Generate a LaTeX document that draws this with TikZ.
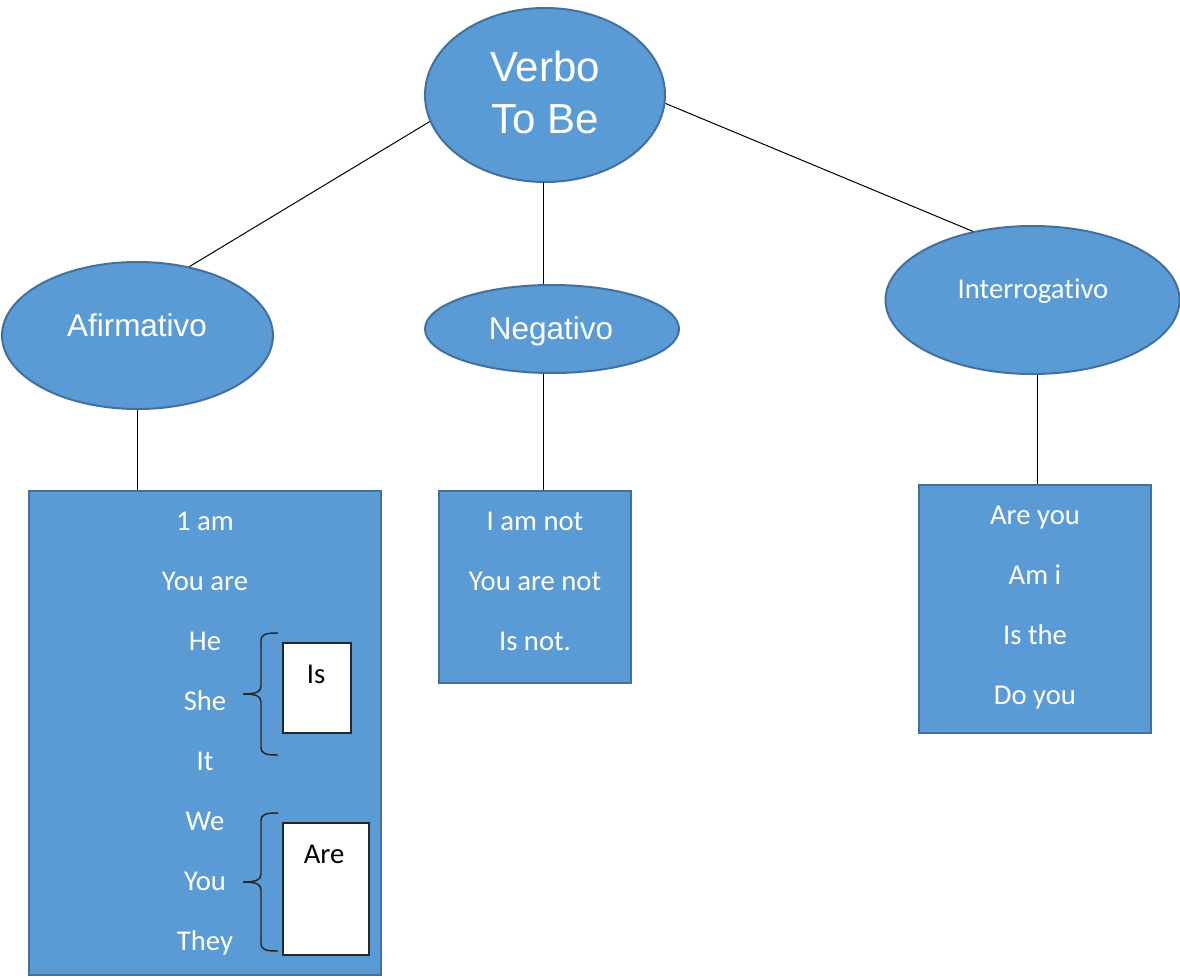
\documentclass[tikz,border=0pt]{standalone}
\usepackage{fontspec}
\setmainfont{Carlito}[RawFeature=-liga]
\newfontfamily\arialf{Liberation Sans}[RawFeature=-liga]
\usetikzlibrary{shapes.geometric}
\definecolor{ofblue}{HTML}{5B9BD5}
\definecolor{ofedge}{HTML}{41719C}
\tikzset{
  oval/.style={ellipse, draw=ofedge, fill=ofblue, line width=1.5pt, inner sep=0pt},
  bluebox/.style={rectangle, draw=ofedge, fill=ofblue, line width=1.5pt, inner sep=0pt},
  whitebox/.style={rectangle, draw=black!85, fill=white, line width=1.1pt, inner sep=0pt},
  link/.style={draw=black, line width=0.75pt},
  lbl/.style={text=white, font=\fontsize{21.5}{26}\selectfont, inner sep=0pt, anchor=base},
  blbl/.style={text=black, font=\fontsize{21.5}{26}\selectfont, inner sep=0pt, anchor=base},
  alb/.style={text=white, font=\arialf\fontsize{23.6}{28}\selectfont, inner sep=0pt, anchor=base},
  bracepath/.style={draw=black!85, line width=1.1pt}
}
\begin{document}
\begin{tikzpicture}[x=0.75pt,y=-0.75pt]
\useasboundingbox (0,0) rectangle (1180,977);
% ellipses
\node[oval, minimum width=180pt, minimum height=130.5pt] (verbo) at (545,95) {};
\node[oval, minimum width=203.25pt, minimum height=110.25pt] (afirm) at (137.5,335.5) {};
\node[oval, minimum width=190.5pt, minimum height=66pt] (neg) at (552,329) {};
\node[oval, minimum width=220.5pt, minimum height=111pt] (inter) at (1032.5,300) {};
% ellipse texts
\node[alb, font=\arialf\fontsize{31.5}{39}\selectfont] (verbot1) at (545,82) {Verbo};
\node[alb, font=\arialf\fontsize{31.5}{39}\selectfont] (verbot2) at (545,134) {To Be};
\node[alb] (afirmt) at (137,336) {Afirmativo};
\node[alb] (negt) at (551,339) {Negativo};
\node[lbl] (intert) at (1033,298) {Interrogativo};
% boxes
\node[bluebox, minimum width=264pt, minimum height=363pt] (abox) at (205,733) {};
\node[bluebox, minimum width=144pt, minimum height=144pt] (nbox) at (535,587) {};
\node[bluebox, minimum width=174pt, minimum height=186pt] (ibox) at (1035,609) {};
% connectors
\coordinate (vneg) at (543,182);
\draw[link] (verbo.193) -- (afirm.53);
\draw[link] (verbo.-4.8) -- (inter.131);
\draw[link] (vneg) -- (vneg |- neg.north);
\draw[link] (afirm.south) -- (afirm.south |- abox.north);
\draw[link] (vneg |- neg.south) -- (vneg |- nbox.north);
\draw[link] (inter.south -| 1037,0) -- (1037,0 |- ibox.north);
% afirmativo texts
\node[lbl] (a1) at (205,530) {1 am};
\node[lbl] (a2) at (205,590) {You are};
\node[lbl] (a3) at (205,650) {He};
\node[lbl] (a4) at (205,710) {She};
\node[lbl] (a5) at (205,770) {It};
\node[lbl] (a6) at (205,830) {We};
\node[lbl] (a7) at (205,890) {You};
\node[lbl] (a8) at (205,950) {They};
% negativo texts
\node[lbl] (n1) at (535,530) {I am not};
\node[lbl] (n2) at (535,590) {You are not};
\node[lbl] (n3) at (535,650) {Is not.};
% interrogativo texts
\node[lbl] (i1) at (1035,524) {Are you};
\node[lbl] (i2) at (1035,584) {Am i};
\node[lbl] (i3) at (1035,644) {Is the};
\node[lbl] (i4) at (1035,704) {Do you};
% white boxes
\node[whitebox, minimum width=51pt, minimum height=67.5pt] (isbox) at (317,688) {};
\node[blbl] (ist) at (316,683) {Is};
\node[whitebox, minimum width=64.5pt, minimum height=99pt] (arebox) at (326,889) {};
\node[blbl] (aret) at (324,863) {Are};
% braces
\draw[bracepath] (278,633) .. controls (266,633) and (261,634) .. (261,641)
  -- (261,686) .. controls (261,692) and (256,694) .. (243,694)
  .. controls (256,694) and (261,696) .. (261,702)
  -- (261,747) .. controls (261,754) and (266,755) .. (278,755);
\draw[bracepath] (278,813) .. controls (266,813) and (261,814) .. (261,821)
  -- (261,874) .. controls (261,880) and (256,882) .. (243,882)
  .. controls (256,882) and (261,884) .. (261,890)
  -- (261,943) .. controls (261,950) and (266,951) .. (278,951);
\end{tikzpicture}
\end{document}
